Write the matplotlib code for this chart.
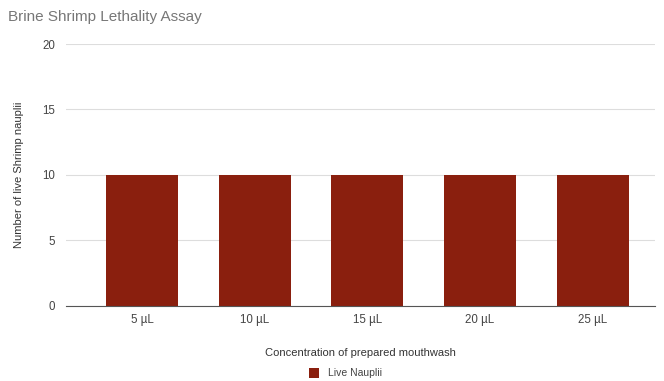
import matplotlib.pyplot as plt

categories = ["5 µL", "10 µL", "15 µL", "20 µL", "25 µL"]
live_nauplii = [10, 10, 10, 10, 10]

plt.rcParams['font.family'] = ['Liberation Sans', 'DejaVu Sans']

fig = plt.figure(figsize=(6.64, 3.81), dpi=100)
ax = fig.add_axes([0.0994, 0.197, 0.8866, 0.6875])

x = range(len(categories))
bars = ax.bar(x, live_nauplii, width=0.64, color="#8a1f0e", label="Live Nauplii", zorder=3)

ax.set_ylim(0, 20)
ax.set_xlim(-0.674, 4.55)
ax.set_yticks([0, 5, 10, 15, 20])
ax.set_xticks(list(x))
ax.set_xticklabels(categories)
ax.tick_params(axis='both', length=0, labelsize=8.3, colors="#444444", pad=6)
ax.tick_params(axis='y', pad=8)
ax.grid(axis='y', color="#dddddd", linewidth=0.8, zorder=0)
for s in ['top', 'right', 'left']:
    ax.spines[s].set_visible(False)
ax.spines['bottom'].set_color("#555555")
ax.spines['bottom'].set_zorder(4)

ax.set_ylabel("Number of live Shrimp nauplii", fontsize=8, color="#333333", labelpad=13)
ax.set_xlabel("Concentration of prepared mouthwash", fontsize=8, color="#333333", labelpad=16)

fig.text(0.012, 0.955, "Brine Shrimp Lethality Assay", fontsize=11, color="#777777", va='center')

fig.legend(handles=[bars], loc='center', bbox_to_anchor=(0.52, 0.02), frameon=False,
           fontsize=7.5, handlelength=1.0, handleheight=1.0, labelcolor="#444444")

fig.savefig("out.png", dpi=100)
